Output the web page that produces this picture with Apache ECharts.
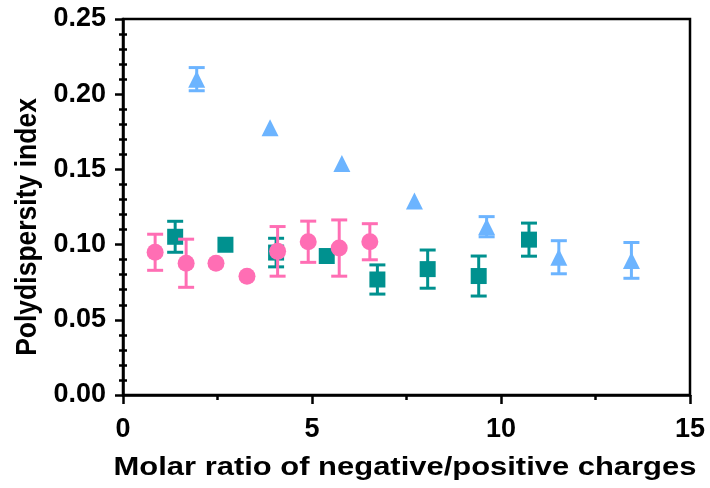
<!DOCTYPE html>
<html>
<head>
<meta charset="utf-8">
<script src="https://cdn.jsdelivr.net/npm/echarts@6/dist/echarts.min.js"></script>
<style>
html,body{margin:0;padding:0;background:#fff;}
#chart{width:710px;height:488px;}
</style>
</head>
<body>
<div id="chart"></div>
<script>
// Data
var pinkX = [0.85, 1.67, 2.46, 3.28, 4.09, 4.90, 5.72, 6.53];
var pinkY = [0.0949, 0.0876, 0.0876, 0.0789, 0.0955, 0.1019, 0.0977, 0.1019];
var pinkErr = [0.012, 0.016, 0, 0, 0.0165, 0.0137, 0.0187, 0.012];

var tealX = [1.38, 2.71, 4.05, 5.39, 6.73, 8.06, 9.41, 10.74];
var tealY = [0.1052, 0.0999, 0.0947, 0.0924, 0.0768, 0.0837, 0.0791, 0.1033];
var tealErr = [0.0103, 0, 0.0095, 0, 0.0097, 0.0127, 0.0133, 0.011];

var blueX = [1.95, 3.89, 5.79, 7.71, 9.62, 11.53, 13.45];
var blueY = [0.210, 0.1777, 0.154, 0.129, 0.1119, 0.0916, 0.0895];
var blueErr = [0.0077, 0, 0, 0, 0.0067, 0.011, 0.0119];

var xTicks = [0, 5, 10, 15];
var yTicks = [0, 0.05, 0.10, 0.15, 0.20, 0.25];

var xTitle = 'Molar ratio of negative/positive charges';
var yTitle = 'Polydispersity index';

var PINK = '#FF6EB4', TEAL = '#00918F', BLUE = '#6CB4FF';
var FONT = '"Liberation Sans", Arial, Helvetica, sans-serif';

function pts(xs, ys) { return xs.map(function (x, i) { return [x, ys[i]]; }); }
function errs(xs, ys, es) { return xs.map(function (x, i) { return [x, ys[i] - es[i], ys[i] + es[i], es[i]]; }); }

function errRender(color) {
  return function (params, api) {
    var e = api.value(3);
    if (!(e > 0)) return null;
    var lo = api.coord([api.value(0), api.value(1)]);
    var hi = api.coord([api.value(0), api.value(2)]);
    var hw = 8;
    var st = { stroke: color, lineWidth: 3 };
    return {
      type: 'group',
      children: [
        { type: 'line', shape: { x1: hi[0], y1: hi[1], x2: lo[0], y2: lo[1] }, style: st },
        { type: 'line', shape: { x1: hi[0] - hw, y1: hi[1], x2: hi[0] + hw, y2: hi[1] }, style: st },
        { type: 'line', shape: { x1: lo[0] - hw, y1: lo[1], x2: lo[0] + hw, y2: lo[1] }, style: st }
      ]
    };
  };
}

var chart = echarts.init(document.getElementById('chart'), null, { renderer: 'canvas' });
var option = {
  animation: false,
  backgroundColor: '#fff',
  grid: { left: 123, right: 20, top: 19, bottom: 93, outerBoundsMode: 'none', containLabel: false,
    show: true, borderColor: '#000', borderWidth: 2.5, backgroundColor: 'transparent' },
  graphic: [
    { type: 'text', x: 405, y: 468, scaleX: 1.19, scaleY: 1, z: 100,
      style: { text: xTitle, fill: '#000', font: 'bold 26px ' + FONT, textAlign: 'center', textVerticalAlign: 'middle' } },
    { type: 'text', x: 28, y: 227, rotation: Math.PI / 2, scaleX: 1, scaleY: 1.09, z: 100,
      style: { text: yTitle, fill: '#000', font: 'bold 26.5px ' + FONT, textAlign: 'center', textVerticalAlign: 'middle' } }
  ],
  xAxis: {
    type: 'value', min: xTicks[0], max: xTicks[xTicks.length - 1], interval: 5,
    axisLine: { show: true, onZero: false, lineStyle: { color: '#000', width: 2.5 } },
    axisTick: { show: true, length: 9, lineStyle: { color: '#000', width: 2.5 } },
    minorTick: { show: true, splitNumber: 2, length: 5, lineStyle: { color: '#000', width: 2.5 } },
    axisLabel: { fontFamily: FONT, fontWeight: 'bold', fontSize: 27, color: '#000', margin: 21 },
    splitLine: { show: false }, minorSplitLine: { show: false }
  },
  yAxis: [{
    type: 'value', min: yTicks[0], max: yTicks[yTicks.length - 1], interval: 0.05,
    axisLine: { show: true, onZero: false, lineStyle: { color: '#000', width: 2.5 } },
    axisTick: { show: true, length: 8, lineStyle: { color: '#000', width: 2.5 } },
    minorTick: { show: true, splitNumber: 5, length: 4, lineStyle: { color: '#000', width: 2.5 } },
    axisLabel: { fontFamily: FONT, fontWeight: 'bold', fontSize: 27, color: '#000', margin: 17,
      formatter: function (v) { return v.toFixed(2); } },
    splitLine: { show: false }, minorSplitLine: { show: false }
  }, {
    type: 'value', min: yTicks[0], max: yTicks[yTicks.length - 1], interval: 0.05, position: 'left', offset: 0,
    axisLine: { show: false }, axisLabel: { show: false },
    axisTick: { show: false, inside: true },
    minorTick: { show: true, splitNumber: 5, length: 4, lineStyle: { color: '#000', width: 2.5 } },
    splitLine: { show: false }, minorSplitLine: { show: false }
  }],
  series: [
    { type: 'custom', renderItem: errRender(BLUE), data: errs(blueX, blueY, blueErr), encode: { x: 0, y: [1, 2] }, z: 2 },
    { type: 'scatter', symbol: 'triangle', symbolSize: 17, itemStyle: { color: BLUE, opacity: 1 }, data: pts(blueX, blueY), z: 3 },
    { type: 'custom', renderItem: errRender(TEAL), data: errs(tealX, tealY, tealErr), encode: { x: 0, y: [1, 2] }, z: 4 },
    { type: 'scatter', symbol: 'rect', symbolSize: [16, 16], itemStyle: { color: TEAL, opacity: 1 }, data: pts(tealX, tealY), z: 5 },
    { type: 'custom', renderItem: errRender(PINK), data: errs(pinkX, pinkY, pinkErr), encode: { x: 0, y: [1, 2] }, z: 6 },
    { type: 'scatter', symbol: 'circle', symbolSize: 17, itemStyle: { color: PINK, opacity: 1 }, data: pts(pinkX, pinkY), z: 7 }
  ]
};
chart.setOption(option);
</script>
</body>
</html>
